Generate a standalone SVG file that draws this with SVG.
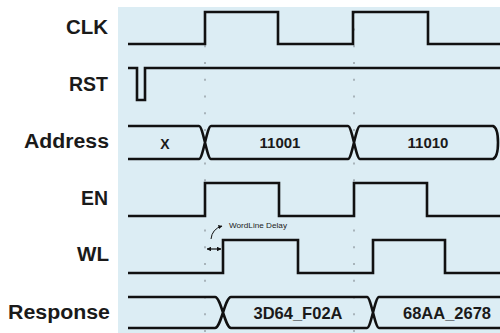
<svg xmlns="http://www.w3.org/2000/svg" width="500" height="333" viewBox="0 0 500 333">
<defs>
<style>
.lbl{font-family:"Liberation Sans",Arial,sans-serif;font-weight:bold;font-size:20px;fill:#1a1a1a;text-anchor:end}
.val{font-family:"Liberation Sans",Arial,sans-serif;font-weight:bold;fill:#1a1a1a;text-anchor:middle}
.wave{fill:none;stroke:#111;stroke-width:2.6;stroke-linejoin:miter}
.grid{stroke:#a8b4ba;stroke-width:2;stroke-dasharray:2 14.75}
.note{font-family:"Liberation Sans",Arial,sans-serif;font-size:6.5px;fill:#222}
</style>
<marker id="ah" viewBox="0 0 10 10" refX="9" refY="5" markerWidth="4" markerHeight="4" orient="auto-start-reverse">
<path d="M0,0 L10,5 L0,10 z" fill="#111"/>
</marker>
</defs>
<rect x="0" y="0" width="500" height="333" fill="#ffffff"/>
<rect x="118" y="7" width="382" height="326" fill="#dcedf4"/>
<g id="gridlines">
<line class="grid" x1="205" y1="11.75" x2="205" y2="333"/>
<line class="grid" x1="354" y1="11.75" x2="354" y2="333"/>
</g>
<g id="labels">
<text class="lbl" x="108" y="34" textLength="42" lengthAdjust="spacingAndGlyphs">CLK</text>
<text class="lbl" x="108" y="91" textLength="39" lengthAdjust="spacingAndGlyphs">RST</text>
<text class="lbl" x="109" y="148" textLength="85" lengthAdjust="spacingAndGlyphs">Address</text>
<text class="lbl" x="108" y="205" textLength="27" lengthAdjust="spacingAndGlyphs">EN</text>
<text class="lbl" x="109" y="261" textLength="32" lengthAdjust="spacingAndGlyphs">WL</text>
<text class="lbl" x="110" y="319" textLength="102" lengthAdjust="spacingAndGlyphs">Response</text>
</g>
<g id="connectors">
<g id="clk"><path class="wave" d="M128,44 H205 V12 H278 V44 H353 V12 H428 V44 H500"/></g>
<g id="rst"><path class="wave" d="M128,68 H137 V100 H145 V68 H500"/></g>
<g id="address">
<path class="wave" d="M128,126 H199 C203,126 207,159 211,159 H348 C352,159 356,126 360,126 H493 Q498,128 498,142.5 Q498,157 493,159 H360 C356,159 352,126 348,126 H211 C207,126 203,159 199,159 H128"/>
<text class="val" x="165" y="149" font-size="14">X</text>
<text class="val" x="280" y="148" font-size="15">11001</text>
<text class="val" x="428" y="148" font-size="15">11010</text>
</g>
<g id="en"><path class="wave" d="M128,216 H205 V183 H279 V216 H354 V183 H427 V216 H500"/></g>
<g id="wl"><path class="wave" d="M128,273 H223 V240 H298 V273 H373 V240 H445 V273 H500"/></g>
<g id="delay">
<line x1="207" y1="249" x2="221" y2="249" stroke="#111" stroke-width="1.2" marker-start="url(#ah)" marker-end="url(#ah)"/>
<path d="M211,239 Q212,229 222,226" fill="none" stroke="#111" stroke-width="1" marker-end="url(#ah)"/>
<text class="note" x="229" y="228" textLength="58" lengthAdjust="spacingAndGlyphs">WordLine Delay</text>
</g>
<g id="response">
<path class="wave" d="M128,297 H215 C221,297 225,328 231,328 H367 C371,328 375,297 379,297 H500 M500,328 H379 C375,328 371,297 367,297 H231 C225,297 221,328 215,328 H128"/>
<text class="val" x="298" y="319" font-size="16.5">3D64_F02A</text>
<text class="val" x="447" y="319" font-size="16.5">68AA_2678</text>
</g>
</g>
</svg>
